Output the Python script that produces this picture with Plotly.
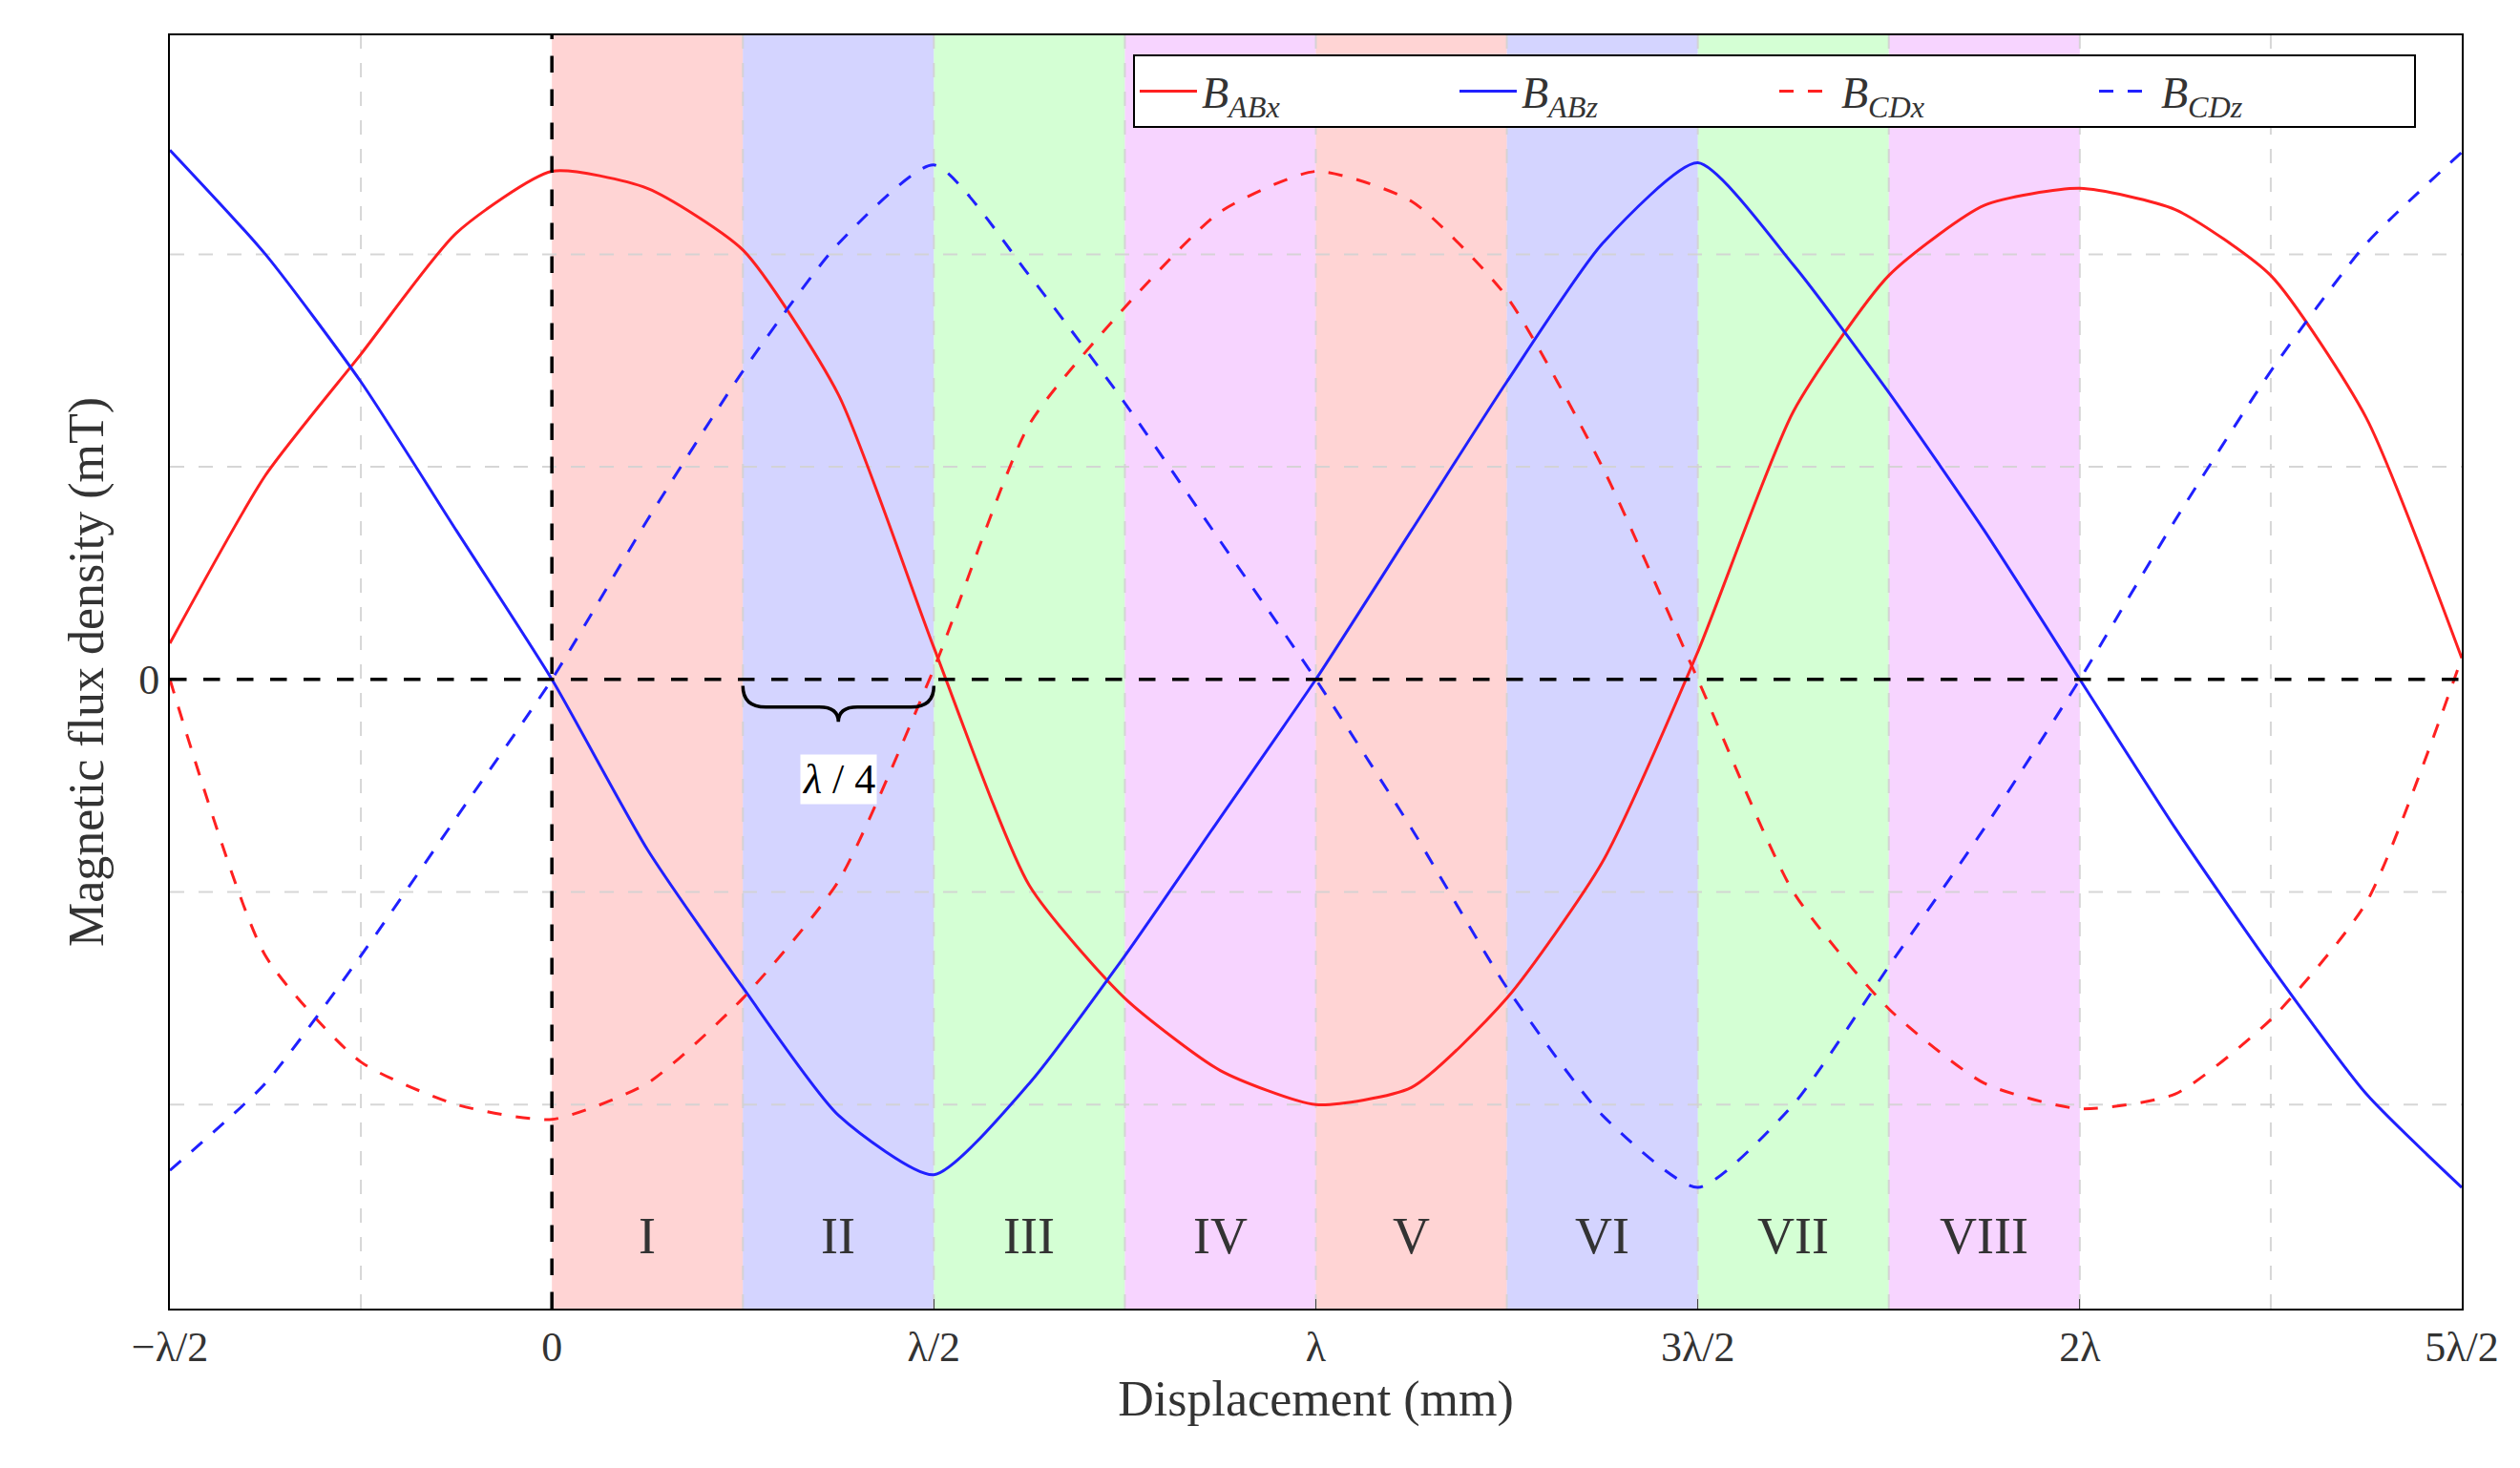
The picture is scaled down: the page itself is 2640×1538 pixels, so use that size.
import plotly.graph_objects as go

x = [-0.5 + 0.125 * i for i in range(25)]
B_ABx = [0.17, 0.96, 1.53, 2.1, 2.39, 2.31, 2.02, 1.34, 0.15, -0.97, -1.5, -1.84, -2.0,
         -1.92, -1.5, -0.86, 0.13, 1.26, 1.9, 2.23, 2.31, 2.21, 1.9, 1.23, 0.1]
B_ABz = [2.49, 2.0, 1.4, 0.7, 0.0, -0.8, -1.45, -2.05, -2.33, -1.9, -1.3, -0.65, 0.0,
         0.7, 1.4, 2.05, 2.43, 1.95, 1.35, 0.7, 0.0, -0.7, -1.35, -1.95, -2.39]
B_CDx = [0.0, -1.3, -1.8, -2.0, -2.07, -1.9, -1.5, -0.95, 0.05, 1.2, 1.75, 2.2, 2.39,
         2.25, 1.8, 1.0, 0.0, -1.0, -1.55, -1.9, -2.02, -1.95, -1.6, -1.05, 0.1]
B_CDz = [-2.31, -1.9, -1.3, -0.65, 0.0, 0.75, 1.45, 2.05, 2.42, 1.9, 1.3, 0.65, 0.0,
         -0.7, -1.45, -2.05, -2.39, -2.0, -1.35, -0.7, 0.0, 0.75, 1.45, 2.05, 2.48]
regions = ["I", "II", "III", "IV", "V", "VI", "VII", "VIII"]
region_colors = ["rgba(255,170,170,0.5)", "rgba(170,170,255,0.5)",
                 "rgba(170,255,170,0.5)", "rgba(240,170,255,0.5)"]
tick_vals = [-0.5, 0, 0.5, 1, 1.5, 2, 2.5]
tick_text = ["\u2212\u03bb/2", "0", "\u03bb/2", "\u03bb", "3\u03bb/2", "2\u03bb", "5\u03bb/2"]

F = "Liberation Serif"
fig = go.Figure()
shapes = []
for i, r in enumerate(regions):
    shapes.append(dict(type="rect", xref="x", yref="y", x0=i * 0.25, x1=(i + 1) * 0.25,
                       y0=-2.96, y1=3.03, fillcolor=region_colors[i % 4], line_width=0, layer="below"))
for g in [-0.25, 0.25, 0.5, 0.75, 1, 1.25, 1.5, 1.75, 2, 2.25]:
    shapes.append(dict(type="line", x0=g, x1=g, y0=-2.96, y1=3.03,
                       line=dict(color="rgba(210,210,210,0.9)", width=2, dash="longdash"), layer="below"))
for g in [-2, -1, 1, 2]:
    shapes.append(dict(type="line", x0=-0.5, x1=2.5, y0=g, y1=g,
                       line=dict(color="rgba(210,210,210,0.9)", width=2, dash="longdash"), layer="below"))
shapes.append(dict(type="line", x0=0, x1=0, y0=-2.96, y1=3.03, line=dict(color="black", width=3.5, dash="longdash")))
shapes.append(dict(type="line", x0=-0.5, x1=2.5, y0=0, y1=0, line=dict(color="black", width=3.5, dash="longdash")))
shapes.append(dict(type="path",
                   path="M 0.25,-0.03 Q 0.25,-0.13 0.28,-0.13 L 0.35,-0.13 Q 0.375,-0.13 0.375,-0.2 "
                        "Q 0.375,-0.13 0.40,-0.13 L 0.47,-0.13 Q 0.5,-0.13 0.5,-0.03",
                   line=dict(color="black", width=3.5)))

for name, y, col, dash in [("B<sub><i>ABx</i></sub>", B_ABx, "#ff2020", "solid"),
                           ("B<sub><i>ABz</i></sub>", B_ABz, "#2020ff", "solid"),
                           ("B<sub><i>CDx</i></sub>", B_CDx, "#ff2020", "longdash"),
                           ("B<sub><i>CDz</i></sub>", B_CDz, "#2020ff", "longdash")]:
    fig.add_trace(go.Scatter(x=x, y=y, mode="lines",
                             line=dict(color=col, width=3, dash=dash, shape="spline", smoothing=0.6),
                             name="<i>" + name[:1] + "</i>" + name[1:]))

ann = [dict(x=i * 0.25 + 0.125, y=-2.62, text=r, showarrow=False, font=dict(family=F, size=54, color="#333"))
       for i, r in enumerate(regions)]
ann.append(dict(x=0.375, y=-0.47, text="<i>\u03bb</i> / 4", showarrow=False, bgcolor="white",
                font=dict(family=F, size=44, color="black")))

fig.update_layout(
    width=2640, height=1538, plot_bgcolor="white", paper_bgcolor="white",
    margin=dict(l=170, r=69, t=29, b=175), shapes=shapes, annotations=ann,
    font=dict(family=F, size=44, color="#333"),
    legend=dict(orientation="h", x=0.98, y=0.985, xanchor="right", yanchor="top",
                bordercolor="black", borderwidth=2, bgcolor="white", font=dict(size=46),
                itemwidth=60, entrywidthmode="pixels", entrywidth=260),
    xaxis=dict(range=[-0.5, 2.5], tickvals=tick_vals, ticktext=tick_text, showgrid=False, zeroline=False,
               showline=True, mirror=True, linecolor="black", linewidth=2, ticks="inside", ticklen=10,
               title=dict(text="Displacement (mm)", font=dict(size=52), standoff=12)),
    yaxis=dict(range=[-2.96, 3.03], tickvals=[0], ticktext=["0"], showgrid=False, zeroline=False,
               showline=True, mirror=True, linecolor="black", linewidth=2, ticks="inside", ticklen=10,
               title=dict(text="Magnetic flux density (mT)", font=dict(size=52), standoff=20)),
)
fig.write_html("out.html")
